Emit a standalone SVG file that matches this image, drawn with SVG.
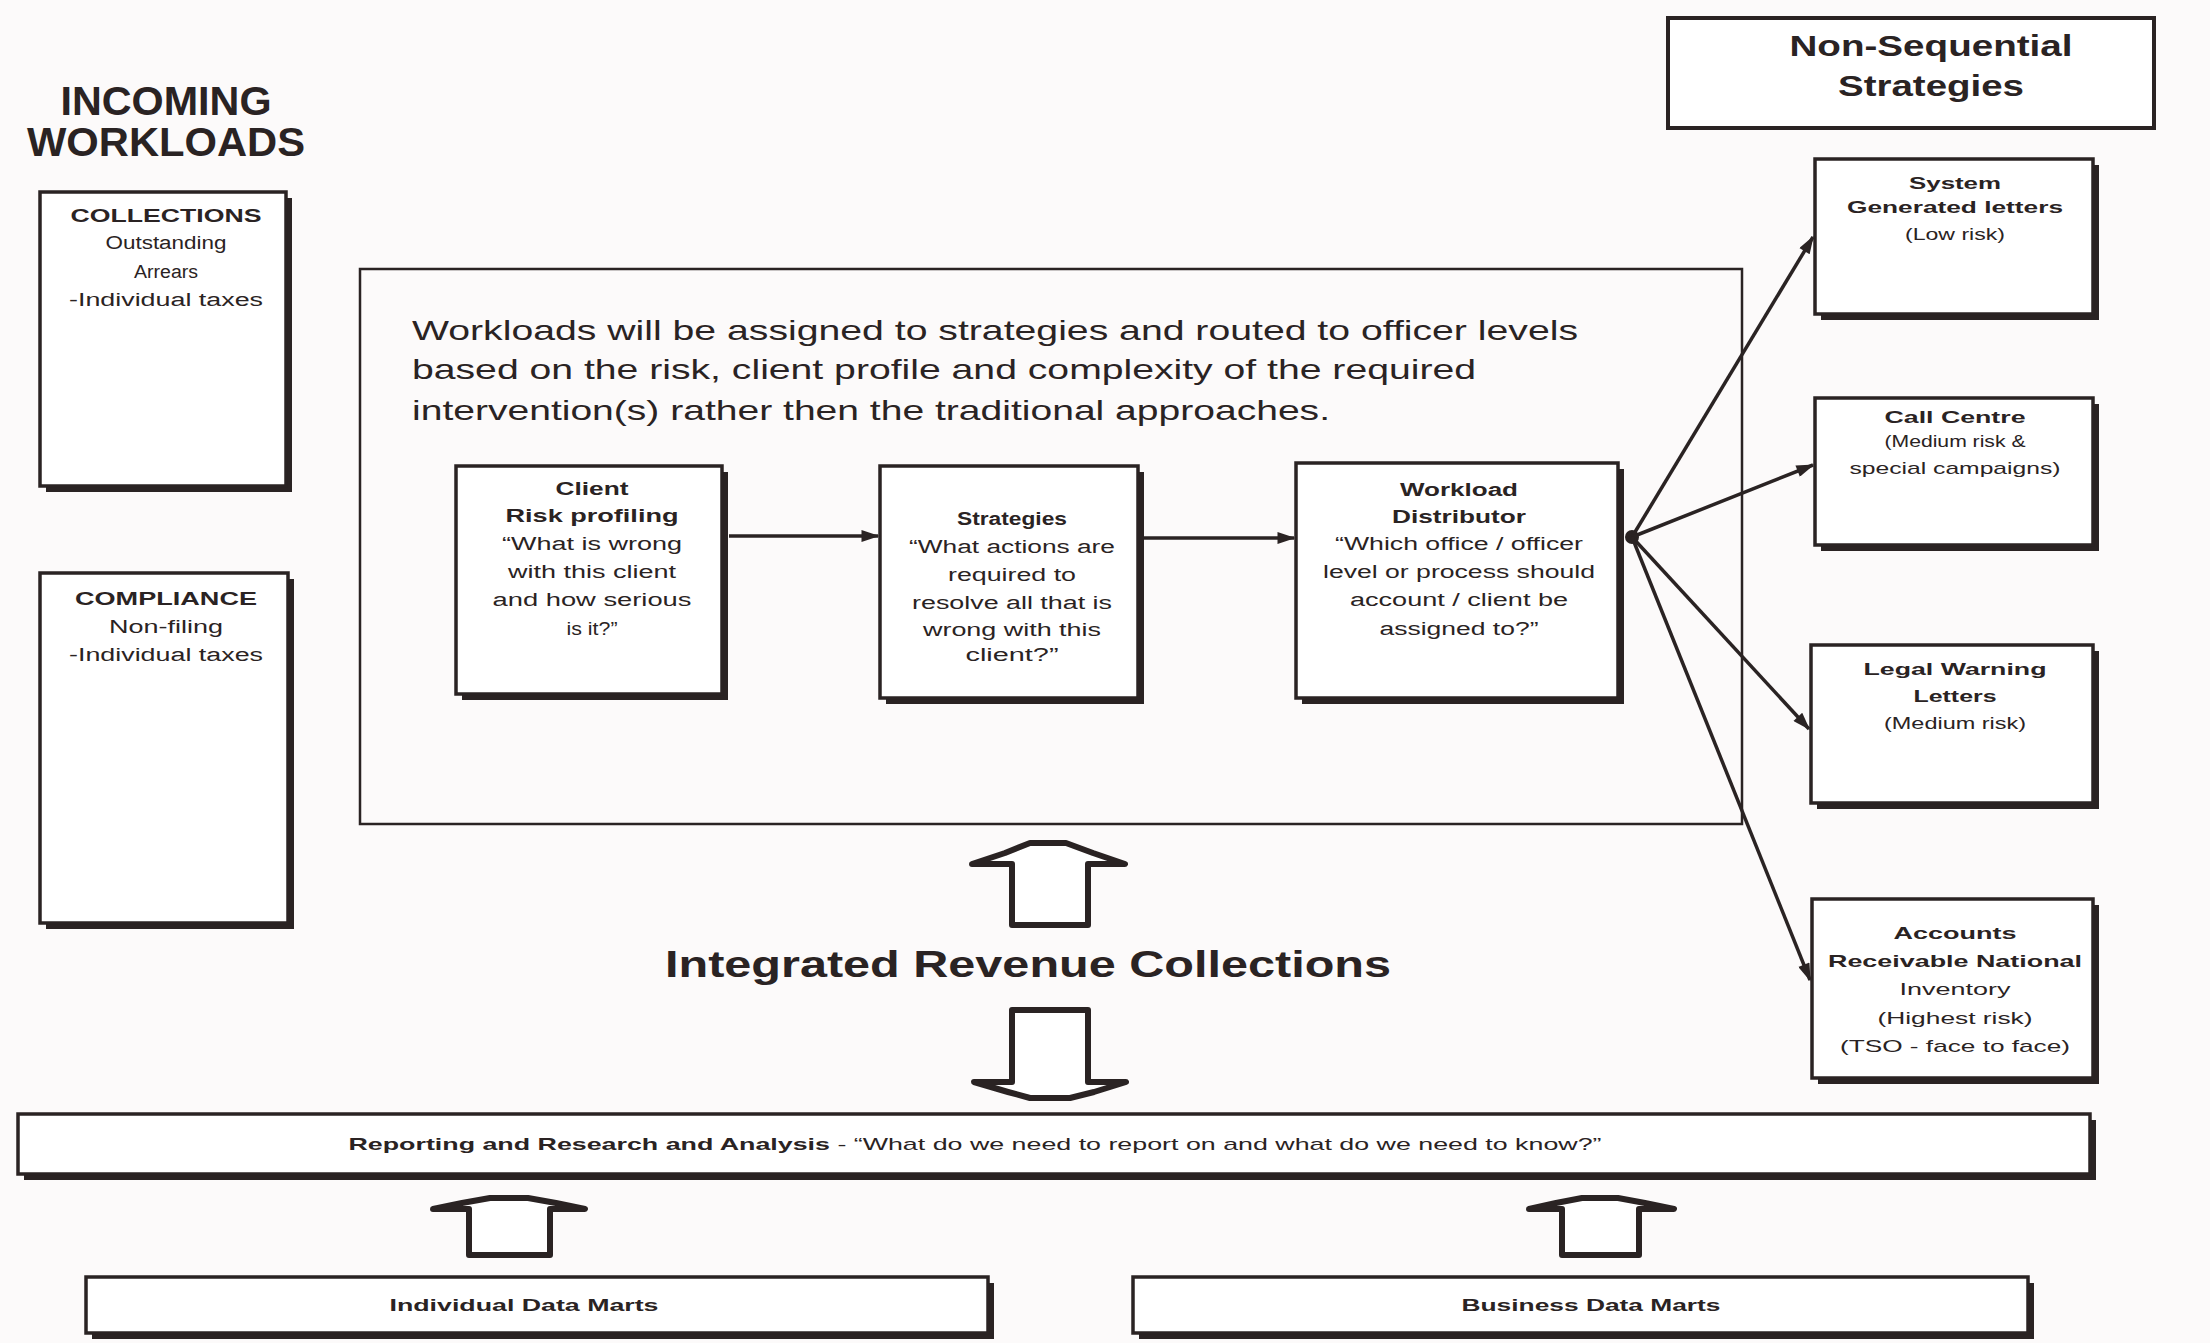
<svg xmlns="http://www.w3.org/2000/svg" width="2210" height="1343" viewBox="0 0 2210 1343">
<defs>
<style>
.bg{fill:#fcfafa}
.bx{fill:#fff;stroke:#2a2323;stroke-width:3.5}
.sh{fill:#2a2323}
.thin{fill:none;stroke:#2a2323;stroke-width:2.5}
.ln{fill:none;stroke:#2a2323;stroke-width:3.5}
.blk{fill:#fff;stroke:#2a2323;stroke-width:6;stroke-linejoin:round}
text{font-family:"Liberation Sans",Arial,sans-serif;fill:#2a2323;text-anchor:middle}
.b{font-weight:bold}
.t18{font-size:18px}
.t17{font-size:17px}
.big{font-size:40px;font-weight:bold}
.para{font-size:28px;text-anchor:start}
</style>
<marker id="ah" viewBox="0 0 12 8" refX="11" refY="4" markerWidth="20" markerHeight="12" markerUnits="userSpaceOnUse" orient="auto">
<path d="M0,0 L12,4 L0,8 z" fill="#2a2323"/>
</marker>
</defs>
<rect class="bg" x="0" y="0" width="2210" height="1343"/>

<g id="title-incoming">
<text class="big" x="166" y="115" textLength="211" lengthAdjust="spacingAndGlyphs">INCOMING</text>
<text class="big" x="166" y="156" textLength="278" lengthAdjust="spacingAndGlyphs">WORKLOADS</text>
</g>

<g id="collections">
<rect class="sh" x="46" y="198" width="246" height="294"/>
<rect class="bx" x="40" y="192" width="246" height="294"/>
<text class="t18 b" x="166" y="222" textLength="191" lengthAdjust="spacingAndGlyphs">COLLECTIONS</text>
<text class="t18" x="166" y="249" textLength="121" lengthAdjust="spacingAndGlyphs">Outstanding</text>
<text class="t18" x="166" y="278" textLength="64" lengthAdjust="spacingAndGlyphs">Arrears</text>
<text class="t18" x="166" y="306" textLength="194" lengthAdjust="spacingAndGlyphs">-Individual taxes</text>
</g>

<g id="compliance">
<rect class="sh" x="46" y="579" width="248" height="350"/>
<rect class="bx" x="40" y="573" width="248" height="350"/>
<text class="t18 b" x="166" y="605" textLength="182" lengthAdjust="spacingAndGlyphs">COMPLIANCE</text>
<text class="t18" x="166" y="633" textLength="114" lengthAdjust="spacingAndGlyphs">Non-filing</text>
<text class="t18" x="166" y="661" textLength="194" lengthAdjust="spacingAndGlyphs">-Individual taxes</text>
</g>

<g id="main-frame">
<rect class="thin" x="360" y="269" width="1382" height="555" fill="none"/>
<text class="para" x="412" y="340" textLength="1166" lengthAdjust="spacingAndGlyphs">Workloads will be assigned to strategies and routed to officer levels</text>
<text class="para" x="412" y="379" textLength="1064" lengthAdjust="spacingAndGlyphs">based on the risk, client profile and complexity of the required</text>
<text class="para" x="412" y="420" textLength="918" lengthAdjust="spacingAndGlyphs">intervention(s) rather then the traditional approaches.</text>
</g>

<g id="client-risk">
<rect class="sh" x="462" y="472" width="266" height="228"/>
<rect class="bx" x="456" y="466" width="266" height="228"/>
<text class="t18 b" x="592" y="495" textLength="73" lengthAdjust="spacingAndGlyphs">Client</text>
<text class="t18 b" x="592" y="522" textLength="173" lengthAdjust="spacingAndGlyphs">Risk profiling</text>
<text class="t18" x="592" y="550" textLength="180" lengthAdjust="spacingAndGlyphs">“What is wrong</text>
<text class="t18" x="592" y="578" textLength="168" lengthAdjust="spacingAndGlyphs">with this client</text>
<text class="t18" x="592" y="606" textLength="199" lengthAdjust="spacingAndGlyphs">and how serious</text>
<text class="t18" x="592" y="635" textLength="51" lengthAdjust="spacingAndGlyphs">is it?”</text>
</g>

<g id="strategies">
<rect class="sh" x="886" y="472" width="258" height="232"/>
<rect class="bx" x="880" y="466" width="258" height="232"/>
<text class="t18 b" x="1012" y="525" textLength="110" lengthAdjust="spacingAndGlyphs">Strategies</text>
<text class="t18" x="1012" y="553" textLength="206" lengthAdjust="spacingAndGlyphs">“What actions are</text>
<text class="t18" x="1012" y="581" textLength="128" lengthAdjust="spacingAndGlyphs">required to</text>
<text class="t18" x="1012" y="609" textLength="200" lengthAdjust="spacingAndGlyphs">resolve all that is</text>
<text class="t18" x="1012" y="636" textLength="178" lengthAdjust="spacingAndGlyphs">wrong with this</text>
<text class="t18" x="1012" y="661" textLength="93" lengthAdjust="spacingAndGlyphs">client?”</text>
</g>

<g id="workload-distributor">
<rect class="sh" x="1302" y="469" width="322" height="235"/>
<rect class="bx" x="1296" y="463" width="322" height="235"/>
<text class="t18 b" x="1459" y="496" textLength="118" lengthAdjust="spacingAndGlyphs">Workload</text>
<text class="t18 b" x="1459" y="523" textLength="134" lengthAdjust="spacingAndGlyphs">Distributor</text>
<text class="t18" x="1459" y="550" textLength="248" lengthAdjust="spacingAndGlyphs">“Which office / officer</text>
<text class="t18" x="1459" y="578" textLength="272" lengthAdjust="spacingAndGlyphs">level or process should</text>
<text class="t18" x="1459" y="606" textLength="218" lengthAdjust="spacingAndGlyphs">account / client be</text>
<text class="t18" x="1459" y="635" textLength="159" lengthAdjust="spacingAndGlyphs">assigned to?”</text>
</g>

<g id="non-sequential">
<rect class="bx" x="1668" y="18" width="486" height="110" style="stroke-width:4"/>
<text class="b" style="font-size:30px" x="1931" y="56" textLength="283" lengthAdjust="spacingAndGlyphs">Non-Sequential</text>
<text class="b" style="font-size:30px" x="1931" y="96" textLength="186" lengthAdjust="spacingAndGlyphs">Strategies</text>
</g>

<g id="system-letters">
<rect class="sh" x="1821" y="165" width="278" height="155"/>
<rect class="bx" x="1815" y="159" width="278" height="155"/>
<text class="t17 b" x="1955" y="189" textLength="92" lengthAdjust="spacingAndGlyphs">System</text>
<text class="t17 b" x="1955" y="213" textLength="216" lengthAdjust="spacingAndGlyphs">Generated letters</text>
<text class="t17" x="1955" y="240" textLength="100" lengthAdjust="spacingAndGlyphs">(Low risk)</text>
</g>

<g id="call-centre">
<rect class="sh" x="1821" y="404" width="278" height="147"/>
<rect class="bx" x="1815" y="398" width="278" height="147"/>
<text class="t17 b" x="1955" y="423" textLength="141" lengthAdjust="spacingAndGlyphs">Call Centre</text>
<text class="t17" x="1955" y="447" textLength="141" lengthAdjust="spacingAndGlyphs">(Medium risk &amp;</text>
<text class="t17" x="1955" y="474" textLength="211" lengthAdjust="spacingAndGlyphs">special campaigns)</text>
</g>

<g id="legal-warning">
<rect class="sh" x="1817" y="651" width="282" height="158"/>
<rect class="bx" x="1811" y="645" width="282" height="158"/>
<text class="t17 b" x="1955" y="675" textLength="183" lengthAdjust="spacingAndGlyphs">Legal Warning</text>
<text class="t17 b" x="1955" y="702" textLength="83" lengthAdjust="spacingAndGlyphs">Letters</text>
<text class="t17" x="1955" y="729" textLength="142" lengthAdjust="spacingAndGlyphs">(Medium risk)</text>
</g>

<g id="accounts-receivable">
<rect class="sh" x="1818" y="905" width="281" height="179"/>
<rect class="bx" x="1812" y="899" width="281" height="179"/>
<text class="t17 b" x="1955" y="939" textLength="123" lengthAdjust="spacingAndGlyphs">Accounts</text>
<text class="t17 b" x="1955" y="967" textLength="254" lengthAdjust="spacingAndGlyphs">Receivable National</text>
<text class="t17" x="1955" y="995" textLength="111" lengthAdjust="spacingAndGlyphs">Inventory</text>
<text class="t17" x="1955" y="1024" textLength="155" lengthAdjust="spacingAndGlyphs">(Highest risk)</text>
<text class="t17" x="1955" y="1052" textLength="230" lengthAdjust="spacingAndGlyphs">(TSO - face to face)</text>
</g>

<g id="integrated-revenue">
<text class="b" style="font-size:36px" x="1028" y="977" textLength="726" lengthAdjust="spacingAndGlyphs">Integrated Revenue Collections</text>
</g>

<g id="reporting">
<rect class="sh" x="24" y="1120" width="2072" height="60"/>
<rect class="bx" x="18" y="1114" width="2072" height="60"/>
<text class="t17" x="975" y="1150" textLength="1253" lengthAdjust="spacingAndGlyphs"><tspan class="b">Reporting and Research and Analysis</tspan> - “What do we need to report on and what do we need to know?”</text>
</g>

<g id="individual-data-marts">
<rect class="sh" x="92" y="1283" width="902" height="56"/>
<rect class="bx" x="86" y="1277" width="902" height="56"/>
<text class="t17 b" x="524" y="1311" textLength="269" lengthAdjust="spacingAndGlyphs">Individual Data Marts</text>
</g>

<g id="business-data-marts">
<rect class="sh" x="1139" y="1283" width="895" height="56"/>
<rect class="bx" x="1133" y="1277" width="895" height="56"/>
<text class="t17 b" x="1591" y="1311" textLength="259" lengthAdjust="spacingAndGlyphs">Business Data Marts</text>
</g>

<g id="connectors">
<line class="ln" x1="729" y1="536" x2="878" y2="536" marker-end="url(#ah)"/>
<line class="ln" x1="1144" y1="538" x2="1294" y2="538" marker-end="url(#ah)"/>
<circle cx="1632" cy="537" r="7" fill="#2a2323"/>
<line class="ln" x1="1632" y1="537" x2="1813" y2="237" marker-end="url(#ah)"/>
<line class="ln" x1="1632" y1="537" x2="1813" y2="465" marker-end="url(#ah)"/>
<line class="ln" x1="1632" y1="537" x2="1809" y2="729" marker-end="url(#ah)"/>
<line class="ln" x1="1632" y1="537" x2="1810" y2="980" marker-end="url(#ah)"/>
<path class="blk" d="M1012,925 L1012,864 L972,864 L1005,853 L1030,843 L1066,843 L1093,853 L1125,864 L1088,864 L1088,925 Z"/>
<path class="blk" d="M1012,1010 L1012,1082 L974,1082 L1008,1092 L1030,1098 L1070,1098 L1094,1092 L1126,1082 L1088,1082 L1088,1010 Z"/>
<path class="blk" d="M469,1255 L469,1209 L433,1209 L462,1203 L490,1198 L528,1198 L556,1203 L585,1209 L550,1209 L550,1255 Z"/>
<path class="blk" d="M1562,1255 L1562,1209 L1529,1209 L1556,1203 L1582,1198 L1618,1198 L1645,1203 L1674,1209 L1639,1209 L1639,1255 Z"/>
</g>
</svg>
